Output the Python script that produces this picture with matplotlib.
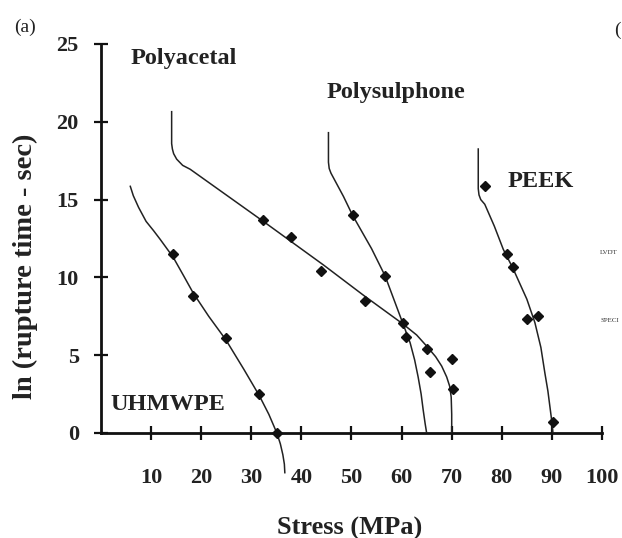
import matplotlib
matplotlib.use('Agg')
import matplotlib.pyplot as plt

# ---------------- data ----------------
x_ticks = [10, 20, 30, 40, 50, 60, 70, 80, 90, 100]
y_ticks = [0, 5, 10, 15, 20, 25]

uhmwpe_pts_x = [14.4, 18.4, 24.9, 31.6, 35.1]
uhmwpe_pts_y = [11.5, 8.8, 6.1, 2.5, 0.0]
uhmwpe_fit_x = [5.8, 6.45, 7.5, 9.0, 10.5, 11.8, 14.4, 16.5, 18.4, 21.5, 24.9, 28.5, 31.6, 33.5, 35.1, 35.8, 36.3, 36.6, 36.7]
uhmwpe_fit_y = [15.9, 15.25, 14.5, 13.6, 13.0, 12.45, 11.3, 10.1, 9.0, 7.5, 6.0, 4.1, 2.4, 1.2, 0.0, -0.7, -1.4, -2.0, -2.6]

acetal_pts_x = [32.4, 37.9, 44.0, 52.7, 60.2, 65.1, 65.7, 70.0, 70.3]
acetal_pts_y = [13.7, 12.6, 10.4, 8.5, 7.1, 5.4, 3.9, 4.75, 2.8]
acetal_fit_x = [14.1, 14.1, 14.25, 14.5, 15.1, 16.3, 17.8, 32.4, 44.4, 52.4, 60.3, 63.0, 65.1, 66.8, 68.0, 69.0, 69.6, 69.9, 70.0, 70.0]
acetal_fit_y = [20.7, 18.6, 18.25, 17.95, 17.6, 17.2, 16.95, 13.6, 10.8, 8.85, 7.0, 6.3, 5.55, 4.9, 4.3, 3.6, 3.0, 2.3, 1.2, 0.0]

sulphone_pts_x = [50.2, 56.7, 60.9]
sulphone_pts_y = [14.0, 10.1, 6.2]
sulphone_fit_x = [45.4, 45.4, 45.55, 45.9, 46.4, 48.4, 50.2, 54.0, 56.7, 60.3, 61.7, 62.6, 63.3, 63.9, 64.3, 64.7, 65.0]
sulphone_fit_y = [19.35, 17.4, 17.0, 16.7, 16.4, 15.2, 14.0, 11.85, 10.1, 7.0, 5.8, 4.7, 3.6, 2.5, 1.5, 0.6, 0.0]

peek_pts_x = [76.6, 81.0, 82.2, 85.0, 87.2, 90.2]
peek_pts_y = [15.9, 11.5, 10.7, 7.3, 7.5, 0.73]
peek_fit_x = [75.3, 75.3, 75.45, 75.8, 76.6, 78.5, 80.3, 82.2, 85.0, 86.6, 87.8, 88.6, 89.2, 89.6, 90.0, 90.2]
peek_fit_y = [18.3, 15.7, 15.3, 15.0, 14.7, 13.3, 11.8, 10.6, 8.6, 7.1, 5.5, 3.85, 2.7, 1.7, 0.7, 0.0]

material_names = ["Polyacetal", "Polysulphone", "PEEK", "UHMWPE"]
# ---------------------------------------------------------------

W, H = 622, 538
fig = plt.figure(figsize=(W / 100, H / 100), dpi=100)
fig.patch.set_facecolor('white')

serif = ['Liberation Serif', 'DejaVu Serif']
ax = fig.add_axes([101 / W, (H - 433) / H, 501 / W, 389 / H])
ax.set_xlim(0, 100)
ax.set_ylim(0, 25)
ax.patch.set_alpha(0)

for s in ['top', 'right']:
    ax.spines[s].set_visible(False)
for s in ['left', 'bottom']:
    ax.spines[s].set_linewidth(2.0)
    ax.spines[s].set_color('#111111')

ax.set_xticks(x_ticks)
ax.set_yticks(y_ticks)
ax.tick_params(direction='inout', length=10, width=1.6, color='#111111')
ax.tick_params(axis='x', pad=20)
ax.tick_params(axis='y', pad=11)
for lab in ax.get_xticklabels() + ax.get_yticklabels():
    lab.set_fontfamily(serif)
    lab.set_fontweight('bold')
    lab.set_fontsize(16)
    lab.set_color('#222222')

line_kw = dict(color='#222222', lw=1.1, clip_on=False, zorder=3,
               solid_joinstyle='round', solid_capstyle='butt')
mk_kw = dict(ls='none', marker='D', ms=5.3, color='#111111', clip_on=False, zorder=4)

for fx, fy, px, py in [
    (uhmwpe_fit_x, uhmwpe_fit_y, uhmwpe_pts_x, uhmwpe_pts_y),
    (acetal_fit_x, acetal_fit_y, acetal_pts_x, acetal_pts_y),
    (sulphone_fit_x, sulphone_fit_y, sulphone_pts_x, sulphone_pts_y),
    (peek_fit_x, peek_fit_y, peek_pts_x, peek_pts_y),
]:
    ax.plot(fx, fy, **line_kw)
    ax.plot(px, py, **mk_kw)

lab_kw = dict(fontfamily=serif, fontweight='bold', fontsize=17.5, color='#222222',
              ha='left', va='baseline', clip_on=False)
ax.text(5.8, 23.7, material_names[0], **lab_kw)
ax.text(45.0, 21.5, material_names[1], **lab_kw)
ax.text(81.1, 15.8, material_names[2], **lab_kw)
ax.text(1.8, 1.48, material_names[3], **lab_kw)

fig.text(350 / W, 1 - 528 / H, "Stress (MPa)", fontfamily=serif, fontweight='bold',
         fontsize=19, ha='center', va='center', color='#222222')
fig.text(25 / W, 1 - 266 / H, "ln (rupture time - sec)", fontfamily=serif, fontweight='bold',
         fontsize=20.5, ha='center', va='center', rotation=90, color='#222222')

fig.text(25 / W, 1 - 27 / H, "(a)", fontfamily=serif, fontsize=14, ha='center', va='center', color='#222222')
fig.text(617 / W, 1 - 30 / H, "(", fontfamily=serif, fontsize=14, ha='center', va='center', color='#222222')
fig.text(609 / W, 1 - 253 / H, "LVDT", fontfamily=serif, fontsize=5, ha='center', va='center', color='#333333')
fig.text(610 / W, 1 - 321 / H, "SPECI", fontfamily=serif, fontsize=5, ha='center', va='center', color='#333333')

fig.savefig('out.png', dpi=100)
